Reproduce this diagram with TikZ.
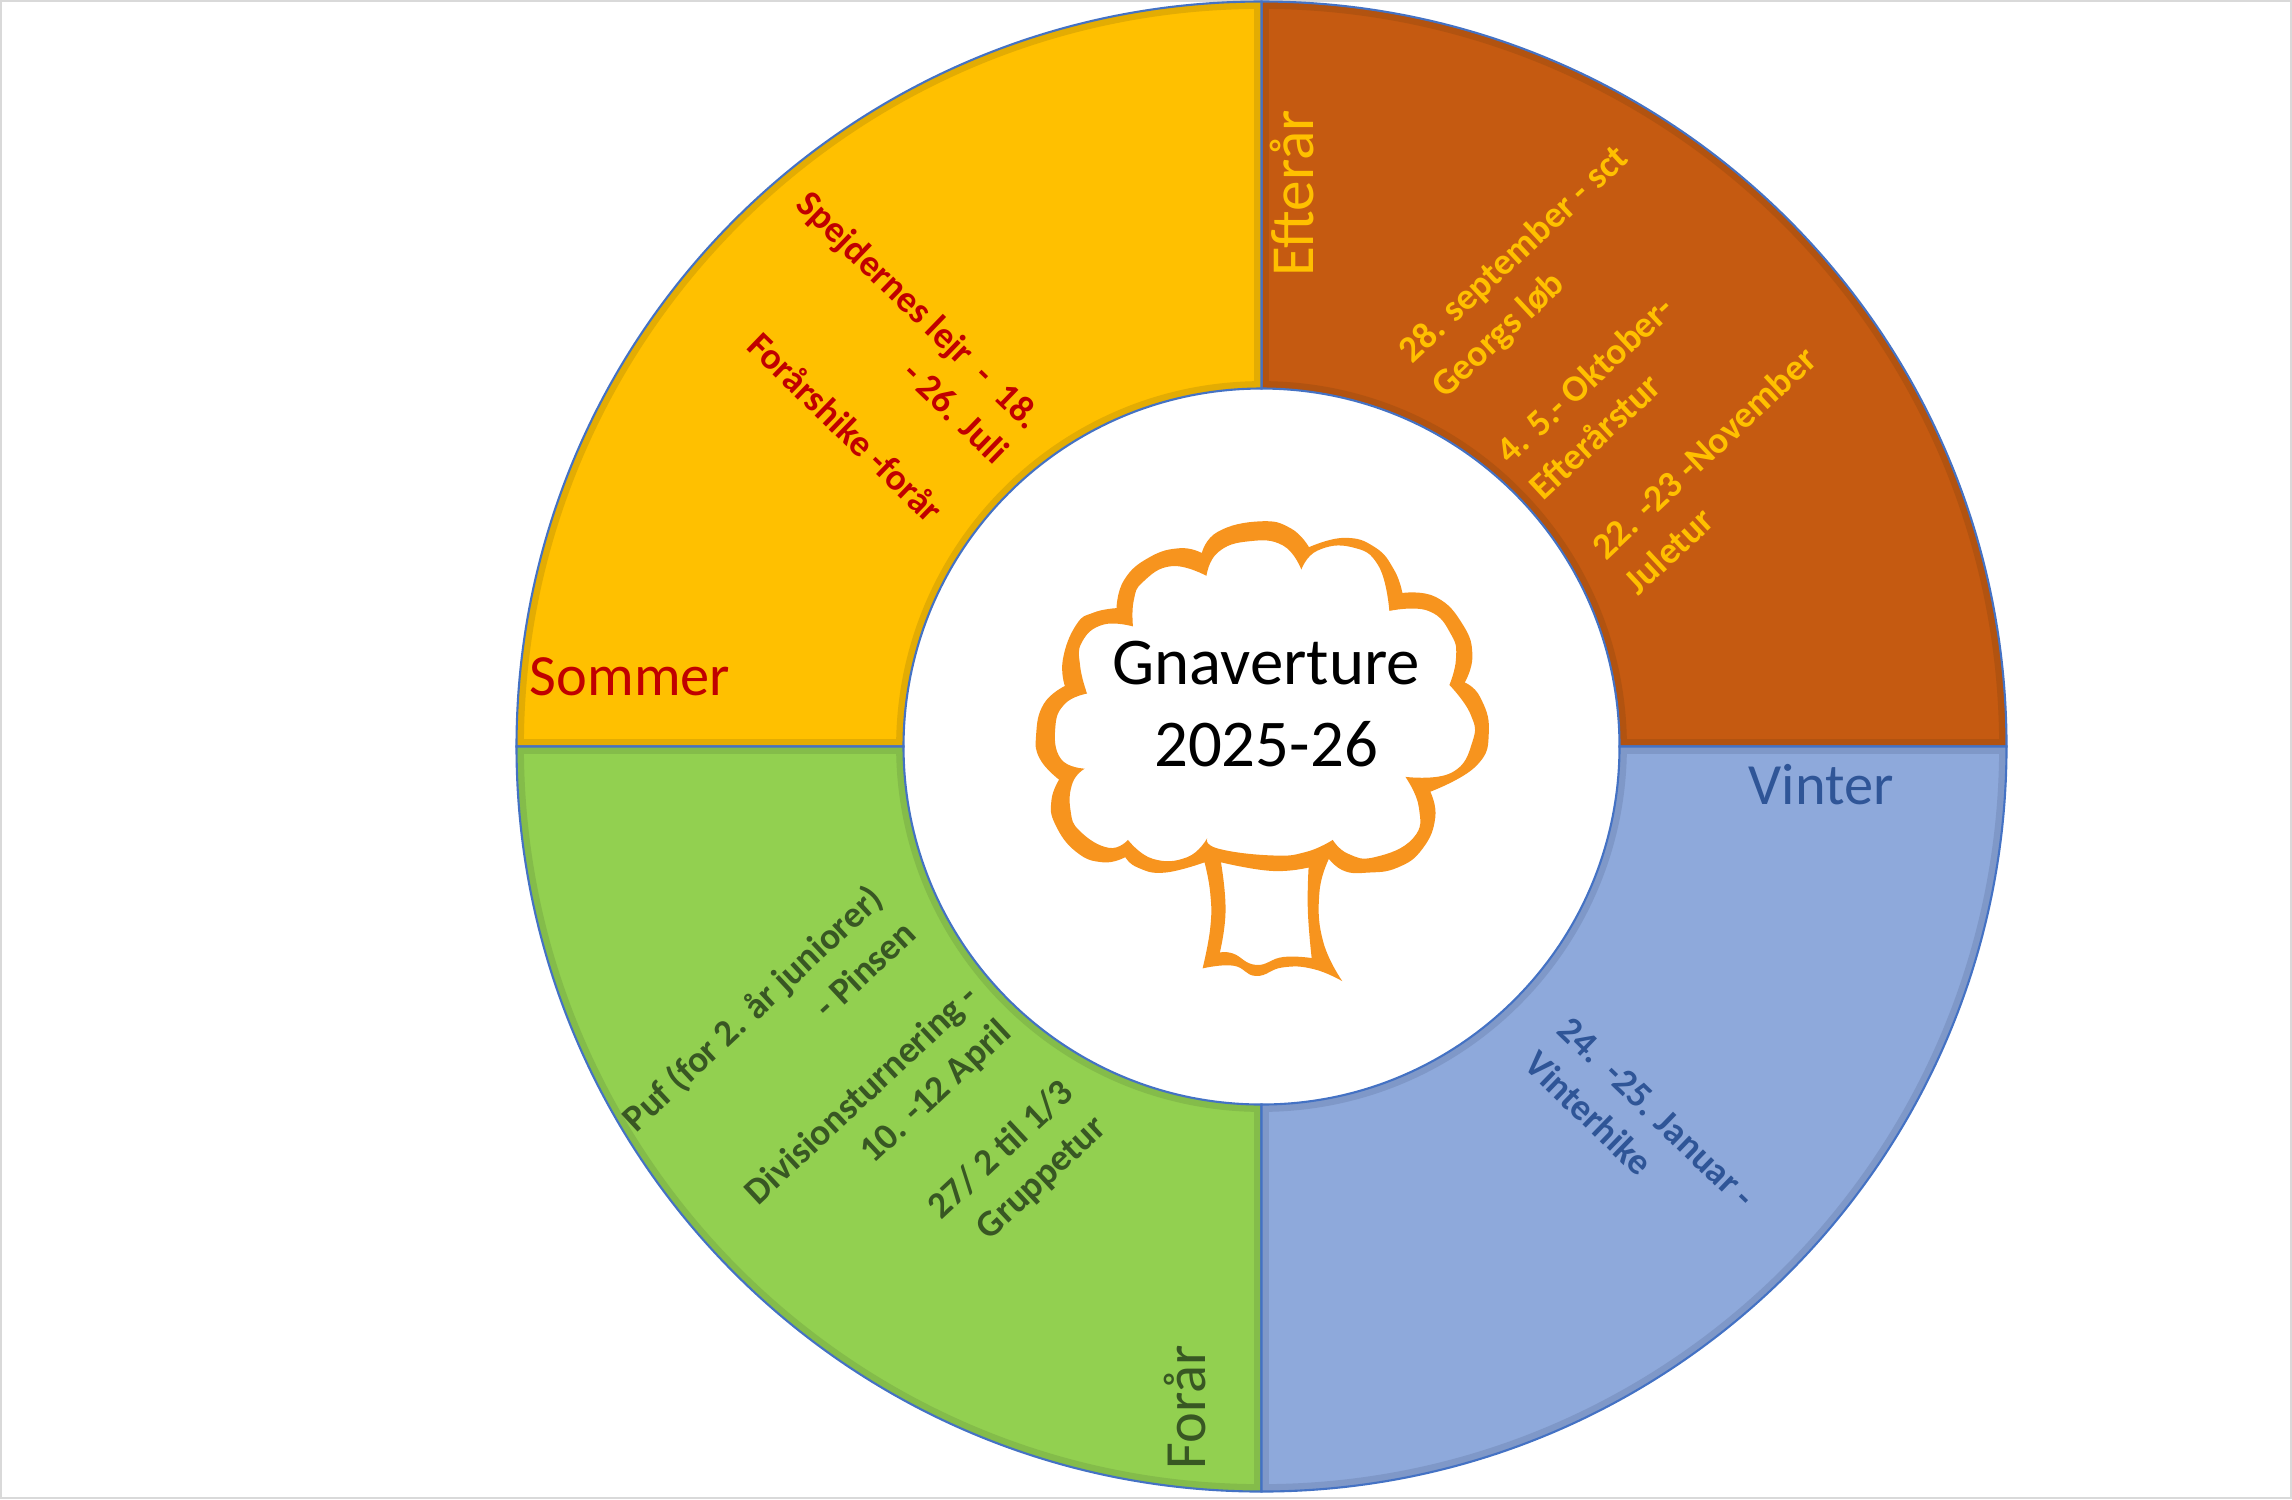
\documentclass[tikz,border=0pt]{standalone}
\usepackage{fontspec}
\setmainfont{Carlito}
\usepackage[dvipsnames,svgnames,table,hyperref]{xcolor}
\definecolor{brownfill}{HTML}{C55A11}
\definecolor{brownedge}{HTML}{B25310}
\definecolor{yellowfill}{HTML}{FFC000}
\definecolor{yellowedge}{HTML}{E3AC03}
\definecolor{greenfill}{HTML}{92D050}
\definecolor{greenedge}{HTML}{84BC4A}
\definecolor{bluefill}{HTML}{8EA9DB}
\definecolor{blueedge}{HTML}{7F98C8}
\definecolor{ringline}{HTML}{4472C4}
\definecolor{treeline}{HTML}{F7941E}
\definecolor{pageline}{HTML}{D9D9D9}
\definecolor{darkred}{HTML}{C00000}
\definecolor{darkgreen}{HTML}{385723}
\definecolor{darkblue}{HTML}{2F5597}
\tikzset{
  season/.style={font=\fontsize{16.6}{19}\selectfont,inner sep=0pt},
  tur/.style={font=\fontsize{10.6}{13.7}\selectfont\bfseries,inner sep=0pt},
  treeseg/.style={smooth,tension=.8},
}
% one quarter of the ring: start angle, end angle, fill, inner edge
\newcommand{\ringpart}[4]{
  \begin{scope}
    \clip (#1:745) arc (#1:#2:745) -- (#2:358) arc (#2:#1:358) -- cycle;
    \fill[#3] (#1:745) arc (#1:#2:745) -- (#2:358) arc (#2:#1:358) -- cycle;
    \draw[#4,line width=4.2pt] (#1:745) arc (#1:#2:745) -- (#2:358) arc (#2:#1:358) -- cycle;
  \end{scope}
  \draw[ringline,line width=.6pt] (#1:745) arc (#1:#2:745) -- (#2:358) arc (#2:#1:358) -- cycle;
}

\begin{document}
\begin{tikzpicture}[x=.01cm,y=-.01cm]
        \useasboundingbox (0,0) rectangle (2292,1499);
        \draw[pageline,line width=.6pt] (1,1) rectangle (2291,1498);

        % the ring
        \begin{scope}[shift={(1261.5,746.5)},x=.01cm,y=.01cm]
          \ringpart{0}{90}{brownfill}{brownedge}
          \ringpart{90}{180}{yellowfill}{yellowedge}
          \ringpart{180}{270}{greenfill}{greenedge}
          \ringpart{270}{360}{bluefill}{blueedge}
        \end{scope}

        % the tree
        \begin{scope}[shift={(950,480)},xscale=.3827,yscale=.3444]
          \fill[treeline,even odd rule]
            plot[treeseg] coordinates {(658,212) (700,150) (810,120) (890,140) (938,195)}
            -- plot[treeseg] coordinates {(938,195) (1030,168) (1110,195) (1160,260) (1182,328)}
            -- plot[treeseg] coordinates {(1182,328) (1270,340) (1340,420) (1365,510) (1345,588)}
            -- plot[treeseg] coordinates {(1345,588) (1385,630) (1408,730) (1375,830) (1255,905)}
            -- plot[treeseg] coordinates {(1255,905) (1268,980) (1235,1070) (1170,1125) (1090,1140) (1030,1135) (990,1100)}
            -- plot[treeseg] coordinates {(990,1100) (965,1200) (975,1340) (1025,1455)}
            -- plot[treeseg] coordinates {(1025,1455) (950,1420) (870,1415) (800,1440) (740,1410) (660,1418)}
            -- plot[treeseg] coordinates {(660,1418) (680,1300) (680,1200) (665,1110)}
            -- plot[treeseg] coordinates {(665,1110) (560,1140) (490,1125) (458,1095)}
            -- plot[treeseg] coordinates {(458,1095) (400,1110) (330,1080) (275,1000) (265,930) (285,870)}
            -- plot[treeseg] coordinates {(285,870) (235,810) (225,740) (245,650) (300,598)}
            -- plot[treeseg] coordinates {(300,598) (295,520) (330,420) (375,385) (435,372)}
            -- plot[treeseg] coordinates {(435,372) (455,290) (520,225) (600,198) (658,212)} -- cycle
            plot[treeseg] coordinates {(670,278) (700,210) (780,178) (870,190) (918,260)}
            -- plot[treeseg] coordinates {(918,260) (960,205) (1050,195) (1120,250) (1148,380)}
            -- plot[treeseg] coordinates {(1148,380) (1250,380) (1310,450) (1322,520) (1305,595)}
            -- plot[treeseg] coordinates {(1305,595) (1360,680) (1365,760) (1310,850) (1190,862)}
            -- plot[treeseg] coordinates {(1190,862) (1225,950) (1210,1040) (1110,1095) (1040,1085) (1000,1045)}
            -- plot[treeseg] coordinates {(1000,1045) (930,1080) (840,1090) (700,1070) (672,1040)}
            -- plot[treeseg] coordinates {(672,1040) (620,1095) (530,1100) (465,1045)}
            -- plot[treeseg] coordinates {(465,1045) (415,1068) (340,1020) (315,960) (320,880) (352,838)}
            -- plot[treeseg] coordinates {(352,838) (290,810) (275,720) (300,650) (358,620)}
            -- plot[treeseg] coordinates {(358,620) (340,540) (345,470) (400,420) (478,425)}
            -- plot[treeseg] coordinates {(478,425) (480,350) (505,295) (580,250) (670,278)} -- cycle
            plot[treeseg] coordinates {(708,1110) (840,1135) (937,1125)}
            -- plot[treeseg] coordinates {(937,1125) (935,1250) (945,1388)}
            -- plot[treeseg] coordinates {(945,1388) (870,1385) (800,1408) (740,1375) (705,1372)}
            -- plot[treeseg] coordinates {(705,1372) (720,1250) (708,1110)} -- cycle;
        \end{scope}

        % the title
        \node[align=center,font=\fontsize{19}{23.4}\selectfont,inner sep=0pt] (title) at (1266,704) {Gnaverture\\2025-26};

        % the seasons
        \node[season,rotate=90,text=yellowfill,font=\fontsize{17.4}{19}\selectfont] (efteraar) at (1292,193) {Efterår};
        \node[season,text=darkred] (sommer) at (630,677) {Sommer};
        \node[season,text=darkblue] (vinter) at (1821,785) {Vinter};
        \node[season,rotate=90,text=darkgreen] (foraar) at (1185,1407) {Forår};

        % the trips
        \node[tur,rotate=43,align=left,text=yellowfill] (sct) at (1531,273) {28. september - sct\\Georgs løb};
        \node[tur,rotate=43,align=left,text=yellowfill] (oktober) at (1601,397) {4. 5.- Oktober-\\Efterårstur};
        \node[tur,rotate=43,align=left,text=yellowfill] (november) at (1720,470) {22. -23 -November\\Juletur};
        \node[tur,rotate=-44,align=right,text=darkred] (lejr) at (903,327) {Spejdernes lejr\ \ -\ \ 18.\\- 26. Juli};
        \node[tur,rotate=-44,text=darkred] (hike) at (846,427) {Forårshike -forår};
        \node[tur,rotate=43,align=right,text=darkgreen] (puf) at (768,1025) {Puf (for 2. år juniorer)\\- Pinsen};
        \node[tur,rotate=43,align=right,text=darkgreen] (division) at (879,1113) {Divisionsturnering -\\10. -12 April};
        \node[tur,rotate=43,align=right,text=darkgreen] (gruppe) at (1018,1168) {27/ 2 til 1/3\\Gruppetur};
        \node[tur,rotate=-44,align=left,text=darkblue] (januar) at (1640,1130) {24.\ \ -25. Januar -\\Vinterhike};
\end{tikzpicture}
\end{document}
